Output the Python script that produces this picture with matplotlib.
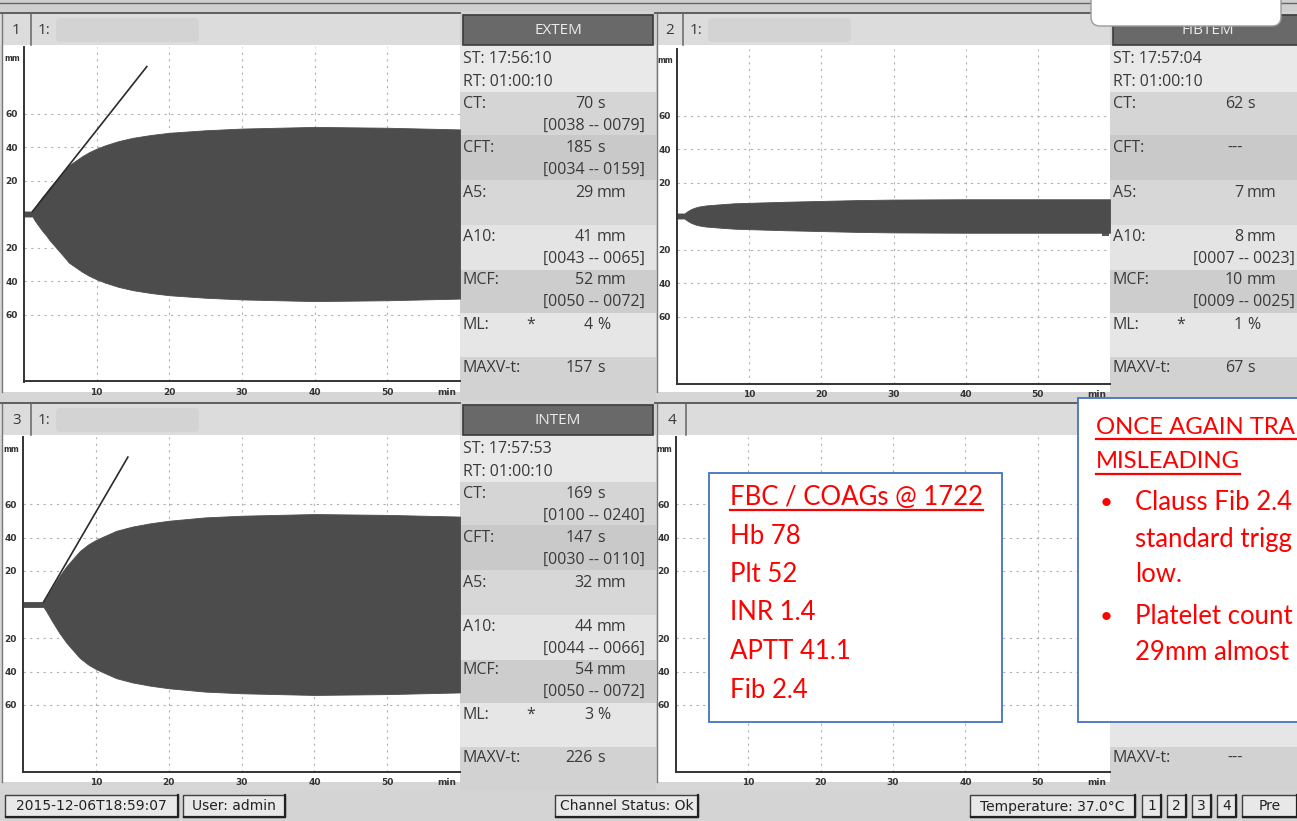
import matplotlib
matplotlib.use("Agg")
import matplotlib.pyplot as plt  # noqa: E402
from matplotlib.patches import Rectangle, FancyBboxPatch  # noqa: E402

W, H = 1297, 821
INK, CURVE, RED, BLUE = "#3a3a3a", "#4c4c4c", "#ff0000", "#4472c4"
UI = ["Open Sans", "DejaVu Sans"]
NOTE = ["Lato", "DejaVu Sans"]
NARROW = ["Liberation Sans Narrow", "DejaVu Sans"]

# amplitude traces: time in min, amplitude in mm (drawn mirrored about 0)
EXTEM_T = [0, 1.17, 1.5, 2, 2.5, 3, 3.5, 4, 4.5, 5, 5.5, 6.17, 7, 8, 9, 10,
           11.17, 13, 15, 17.5, 20, 25, 30, 35, 40, 50, 60]
EXTEM_A = [1.5, 1.5, 4, 7, 10, 12.5, 15.5, 18, 20.5, 23, 25.5, 29, 31.5, 34.5,
           37, 39, 41, 43.5, 45.5, 47.2, 48.5, 50, 51, 51.5, 52, 51.5, 50.5]
EXTEM_TAN_T, EXTEM_TAN_A = [1.17, 16.9], [1.5, 88]

FIBTEM_T = [0, 1.03, 1.5, 2, 2.5, 3, 4, 6.03, 8, 11.03, 15, 20, 25, 30, 40, 50, 60]
FIBTEM_A = [1.5, 1.5, 3, 4.2, 5, 5.6, 6.3, 7, 7.6, 8, 8.5, 9, 9.5, 9.8, 10, 10, 10]

INTEM_T = [0, 2.82, 3.2, 3.6, 4, 4.5, 5, 5.5, 6, 6.5, 7, 7.82, 9, 10, 11, 12.82,
           15, 17.5, 20, 25, 30, 35, 40, 50, 60]
INTEM_A = [1.5, 1.5, 4, 7, 10, 13.5, 17, 20, 23, 25.5, 28, 32, 36, 38.5, 40.5,
           44, 46.5, 48.5, 50, 52, 53, 53.5, 54, 53.5, 52.5]
INTEM_TAN_T, INTEM_TAN_A = [2.82, 14.4], [1.5, 88]

TICK_MIN = [10, 20, 30, 40, 50]
TICK_MM = [-60, -40, -20, 20, 40, 60]

# result table
ROW_LABELS = ["CT:", "CFT:", "A5:", "A10:", "MCF:", "ML:", "MAXV-t:"]
ROW_UNITS = ["s", "s", "mm", "mm", "mm", "%", "s"]
EXTEM_VALUES = ["70", "185", "29", "41", "52", "4", "157"]
EXTEM_RANGES = ["[0038 -- 0079]", "[0034 -- 0159]", "", "[0043 -- 0065]",
                "[0050 -- 0072]", "", ""]
FIBTEM_VALUES = ["62", "---", "7", "8", "10", "1", "67"]
FIBTEM_RANGES = ["", "", "", "[0007 -- 0023]", "[0009 -- 0025]", "", ""]
INTEM_VALUES = ["169", "147", "32", "44", "54", "3", "226"]
INTEM_RANGES = ["[0100 -- 0240]", "[0030 -- 0110]", "", "[0044 -- 0066]",
                "[0050 -- 0072]", "", ""]

LAB_TITLE = "FBC / COAGs @ 1722"
LAB_LINES = ["Hb 78", "Plt 52", "INR 1.4", "APTT 41.1", "Fib 2.4"]
NOTE_TITLE = ["ONCE AGAIN TRA", "MISLEADING"]
NOTE_BULLETS = [["Clauss Fib 2.4", "standard trigg", "low."],
                ["Platelet count", "29mm almost"]]

STATUS = ["2015-12-06T18:59:07", "User: admin", "Channel Status: Ok",
          "Temperature: 37.0°C", "1", "2", "3", "4", "Pre"]


def px_axes(fig, x0, y0, x1, y1):
    return fig.add_axes([x0 / W, 1 - y1 / H, (x1 - x0) / W, (y1 - y0) / H])


def rect(ax, x0, y0, x1, y1, fc, ec="none", lw=0, z=1):
    ax.add_patch(Rectangle((x0, y0), x1 - x0, y1 - y0, fc=fc, ec=ec, lw=lw, zorder=z))


def trace_axes(fig, box, t=None, a=None, tan_t=None, tan_a=None):
    ax = px_axes(fig, *box)
    ax.set_xlim(0, 60)
    ax.set_ylim(-100, 100)
    ax.set_facecolor("none")
    ax.set_xticks(TICK_MIN, [str(v) for v in TICK_MIN])
    ax.set_yticks(TICK_MM, [str(abs(v)) for v in TICK_MM])
    ax.tick_params(length=0, labelsize=6.5, colors="#333333", pad=4.5)
    for lab in ax.get_xticklabels() + ax.get_yticklabels():
        lab.set_fontweight("bold")
        lab.set_family(NARROW)
    ax.grid(True, color="#b0b0b0", lw=0.8, ls=(0, (2, 4)))
    for sp in ("top", "right"):
        ax.spines[sp].set_visible(False)
    for sp in ("left", "bottom"):
        ax.spines[sp].set_color("#333333")
        ax.spines[sp].set_linewidth(1.4)
    if t is not None:
        ax.fill_between(t, [-v for v in a], a, color=CURVE, lw=0.6, zorder=2)
    if tan_t is not None:
        ax.plot(tan_t, tan_a, color="#2a2a2a", lw=1.2, zorder=3)
    ax.annotate("min", xy=(58.2, -100), xytext=(0, -6), textcoords="offset pixels",
                ha="center", va="top", fontsize=6.5, fontweight="bold",
                family=NARROW, color="#333333", annotation_clip=False)
    ax.annotate("mm", xy=(0, 100), xytext=(-12, -12), textcoords="offset pixels",
                ha="center", va="center", fontsize=5.5, fontweight="bold",
                family=NARROW, color="#333333", annotation_clip=False)
    return ax


def panel_frame(bg, dx, dy, num, cell=31, redact=True):
    # white trace area, header strip and channel number cell
    rect(bg, dx + 3, dy + 45, dx + 460, dy + 392, "white")
    rect(bg, dx + 0, dy + 13, dx + 460, dy + 45, "#dcdcdc")
    bg.plot([dx, dx + 460], [dy + 13.5, dy + 13.5], color="#555555", lw=1.3, zorder=2)
    bg.plot([dx + cell, dx + cell], [dy + 14, dy + 45], color="#666666", lw=1.1, zorder=2)
    bg.plot([dx + 2, dx + 2], [dy + 14, dy + 392], color="#777777", lw=1.0, zorder=2)
    bg.text(dx + cell / 2 + 1, dy + 30, num, ha="center", va="center", fontsize=11,
            family=UI, color=INK)
    if redact:
        bg.text(dx + cell + 7, dy + 30, "1:", ha="left", va="center", fontsize=11,
                family=UI, color=INK)
        bg.add_patch(FancyBboxPatch((dx + cell + 25, dy + 18), 143, 24,
                                    boxstyle="round,pad=0,rounding_size=4",
                                    fc="#d3d3d3", ec="none", zorder=3))


def info_panel(bg, dx, dy, name=None, st=None, values=None, ranges=None):
    bands = [(45, 92, "#e9e9e9"), (92, 135, "#d5d5d5"), (135, 180, "#c9c9c9"),
             (180, 225, "#d7d7d7"), (225, 270, "#e4e4e4"), (270, 313, "#cdcdcd"),
             (313, 357, "#e6e6e6"), (357, 402, "#d2d2d2")]
    for y0, y1, c in bands:
        rect(bg, dx + 460, dy + y0, dx + 656, dy + y1, c)
    rect(bg, dx + 460, dy + 13, dx + 656, dy + 45, "#d0d0d0")
    rect(bg, dx + 463, dy + 15, dx + 653, dy + 45, "#696969", ec="#3c3c3c", lw=1.2, z=2)
    if name:
        bg.text(dx + 558, dy + 30, name, ha="center", va="center", fontsize=11,
                family=UI, color="#ececec", zorder=3)
    if st:
        bg.text(dx + 463, dy + 59, "ST: " + st, ha="left", va="center",
                fontsize=11.5, family=UI, color=INK)
        bg.text(dx + 463, dy + 82, "RT: 01:00:10", ha="left", va="center",
                fontsize=11.5, family=UI, color=INK)
    row_y = [104, 148, 193, 237, 280, 325, 368]
    for i, (lab, unit, y) in enumerate(zip(ROW_LABELS, ROW_UNITS, row_y)):
        if values is None and lab != "MAXV-t:":
            continue
        bg.text(dx + 463, dy + y, lab, ha="left", va="center", fontsize=11.5,
                family=UI, color=INK)
        val = "---" if values is None else values[i]
        bg.text(dx + 593, dy + y, val, ha="right", va="center", fontsize=11.5,
                family=UI, color=INK)
        if val == "---":
            continue
        bg.text(dx + 597, dy + y, unit, ha="left", va="center", fontsize=11.5,
                family=UI, color=INK)
        if lab == "ML:":
            bg.text(dx + 531, dy + y, "*", ha="center", va="center", fontsize=11.5,
                    family=UI, color=INK)
        if ranges and ranges[i]:
            bg.text(dx + 645, dy + y + 22, ranges[i], ha="right", va="center",
                    fontsize=11.5, family=UI, color=INK)


def underline(ax, txt, y, renderer, x1=None):
    bb = txt.get_window_extent(renderer).transformed(ax.transData.inverted())
    ax.plot([bb.x0, x1 if x1 else bb.x1], [y, y], color=RED, lw=1.6, zorder=6)


fig = plt.figure(figsize=(W / 100, H / 100), dpi=100, facecolor="#d6d6d6")
bg = fig.add_axes([0, 0, 1, 1])
bg.set_xlim(0, W)
bg.set_ylim(H, 0)
bg.axis("off")

# top strip
rect(bg, 0, 0, W, 12, "#cfcfcf")
bg.plot([0, W], [3, 3], color="#666666", lw=1.0)

panel_frame(bg, 0, 0, "1")
panel_frame(bg, 655, 0, "2", cell=28)
panel_frame(bg, 0, 390, "3")
panel_frame(bg, 655, 390, "4", redact=False)
info_panel(bg, 0, 0, "EXTEM", "17:56:10", EXTEM_VALUES, EXTEM_RANGES)
info_panel(bg, 650, 0, "FIBTEM", "17:57:04", FIBTEM_VALUES, FIBTEM_RANGES)
info_panel(bg, 0, 390, "INTEM", "17:57:53", INTEM_VALUES, INTEM_RANGES)
info_panel(bg, 650, 390)

# selection markers at the left edge of the result tables
rect(bg, 455, 133, 460, 298, "#5a5a5a", z=2)
rect(bg, 455, 518, 460, 692, "#5a5a5a", z=2)
rect(bg, 1102, 203, 1109, 236, "#5a5a5a", z=2)

# status bar
rect(bg, 0, 790, W, H, "#d4d4d4")
status_boxes = [(5, 178), (183, 285), (555, 698), (970, 1135), (1142, 1161),
                (1167, 1186), (1192, 1211), (1217, 1236), (1242, 1297)]
for (x0, x1), label in zip(status_boxes, STATUS):
    rect(bg, x0, 795, x1, 817, "#e8e8e8", ec="#3f3f3f", lw=1.0, z=2)
    bg.plot([x0 + 1, x1, x1], [817, 817, 795], color="#222222", lw=1.6, zorder=3)
    bg.text((x0 + x1) / 2, 806.5, label, ha="center", va="center", fontsize=10,
            family=NARROW, color="#222222", zorder=4)

trace_axes(fig, (24, 46.5, 460, 381.5), EXTEM_T, EXTEM_A, EXTEM_TAN_T, EXTEM_TAN_A)
trace_axes(fig, (677, 48.5, 1110, 383.5), FIBTEM_T, FIBTEM_A)
trace_axes(fig, (23, 437, 460, 772), INTEM_T, INTEM_A, INTEM_TAN_T, INTEM_TAN_A)
trace_axes(fig, (676, 437, 1110, 772))

# annotation layer
top = fig.add_axes([0, 0, 1, 1])
top.set_xlim(0, W)
top.set_ylim(H, 0)
top.axis("off")
top.patch.set_alpha(0)
top.add_patch(FancyBboxPatch((1091, -12), 190, 38, boxstyle="round,pad=0,rounding_size=9",
                             fc="white", ec="#9a9a9a", lw=1.0, zorder=5))

renderer = fig.canvas.get_renderer()
rect(top, 709, 473, 1002, 722, "white", ec=BLUE, lw=1.3, z=4)
t = top.text(730, 497, LAB_TITLE, ha="left", va="center", fontsize=18.5,
             family=NOTE, color=RED, zorder=6)
underline(top, t, 510, renderer)
for i, line in enumerate(LAB_LINES):
    top.text(730, 536 + i * 38.5, line, ha="left", va="center", fontsize=18.5,
             family=NOTE, color=RED, zorder=6)

rect(top, 1078, 398, 1320, 722, "white", ec=BLUE, lw=1.3, z=4)
for i, line in enumerate(NOTE_TITLE):
    y = 427 + i * 35
    t = top.text(1096, y, line, ha="left", va="center", fontsize=17.2,
                 family=NOTE, color=RED, zorder=6)
    underline(top, t, y + 12, renderer, x1=W if i == 0 else None)
by = 503
for group in NOTE_BULLETS:
    top.text(1106, by, "•", ha="center", va="center", fontsize=16,
             family=NOTE, color=RED, zorder=6)
    for j, line in enumerate(group):
        top.text(1135, by + j * 36, line, ha="left", va="center", fontsize=18.5,
                 family=NOTE, color=RED, zorder=6)
    by += 114

fig.savefig("out.png", dpi=100, facecolor=fig.get_facecolor())
